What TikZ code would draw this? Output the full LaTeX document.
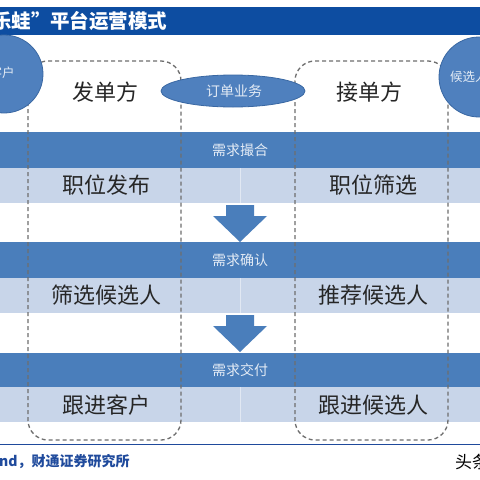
\documentclass[tikz,border=0pt]{standalone}
\usepackage{fontspec}
\usetikzlibrary{shapes.geometric}
\setmainfont{Noto Sans CJK SC}
\definecolor{titlebar}{HTML}{0D4DA1}
\definecolor{dband}{HTML}{4A7EBB}
\definecolor{lband}{HTML}{C8D5E9}
\definecolor{shapefill}{HTML}{4F80BE}
\definecolor{shapeline}{HTML}{3A68A3}
\definecolor{labeltext}{HTML}{E3EBF5}
\definecolor{dashgray}{HTML}{6E6E6E}
\definecolor{footblue}{HTML}{1F4A9C}
\begin{document}
\begin{tikzpicture}[x=1pt,y=-1pt,
  maintext/.style={inner sep=0pt, font=\fontsize{22}{22}\selectfont, text=black!85},
  smalltext/.style={inner sep=0pt, font=\fontsize{14}{14}\selectfont, text=labeltext},
  bubbletext/.style={inner sep=0pt, font=\fontsize{12.5}{12.5}\selectfont, text=labeltext},
  darkband/.style={fill=dband, draw=none},
  lightband/.style={fill=lband, draw=none},
  lane/.style={draw=dashgray, line width=1.3pt, dash pattern=on 4pt off 3pt, rounded corners=20pt},
  bubble/.style={fill=shapefill, draw=shapeline, line width=0.8pt},
  downarrow/.style={fill=dband, draw=none}]
\useasboundingbox (0,0) rectangle (480,480);
\clip (0,0) rectangle (480,480);
\fill[white] (0,0) rectangle (480,480);
% title bar
\fill[titlebar] (0,7) rectangle (480,35);
\node[anchor=west, inner sep=0pt, font=\fontsize{19.5}{19.5}\selectfont\bfseries, text=white] (title1) at (-8,21) {乐蛙”};
\node[anchor=west, inner sep=0pt, font=\fontsize{19.5}{19.5}\selectfont\bfseries, text=white] (title2) at (50,21) {平台运营模式};
% bands
\fill[darkband] (0,132) rectangle (480,168);
\fill[lightband] (0,168) rectangle (480,203);
\fill[darkband] (0,242) rectangle (480,278);
\fill[lightband] (0,278) rectangle (480,313);
\fill[darkband] (0,353) rectangle (480,387);
\fill[lightband] (0,387) rectangle (480,422);
\draw[white!45!lband, line width=0.4pt] (240,168) -- (240,203);
\draw[white!45!lband, line width=0.4pt] (240,278) -- (240,313);
\draw[white!45!lband, line width=0.4pt] (240,387) -- (240,422);
% arrows
\fill[downarrow] (226,205) -- (254,205) -- (254,216) -- (267,216) -- (240,242) -- (213,216) -- (226,216) -- cycle;
\fill[downarrow] (226,315) -- (254,315) -- (254,326) -- (267,326) -- (240,352) -- (213,326) -- (226,326) -- cycle;
% lanes
\draw[lane] (28,61) rectangle (181,440);
\draw[lane] (295,61) rectangle (448,440);
% bubbles
\node[bubble, circle, minimum size=78pt, inner sep=0pt] (client) at (4,74) {};
\node[bubbletext, anchor=west] (clienttext) at (-10.5,73) {客户};
\node[bubble, circle, minimum size=80pt, inner sep=0pt] (cand) at (479,77) {};
\node[bubbletext, anchor=west] (candtext) at (450,77) {候选人};
\node[bubble, ellipse, minimum width=144pt, minimum height=32pt, inner sep=0pt] (order) at (233,91) {};
\node[smalltext] (ordertext) at (234,91) {订单业务};
% headers
\node[maintext] (sender) at (105,92) {发单方};
\node[maintext] (receiver) at (369,92) {接单方};
% band labels
\node[smalltext] (s1) at (240,150) {需求撮合};
\node[smalltext] (s2) at (240,260) {需求确认};
\node[smalltext] (s3) at (240,370) {需求交付};
% cells
\node[maintext] (a1) at (107,185) {职位发布};
\node[maintext] (b1) at (373,185) {职位筛选};
\node[maintext] (a2) at (107,295) {筛选候选人};
\node[maintext] (b2) at (373,295) {推荐候选人};
\node[maintext] (a3) at (107,405) {跟进客户};
\node[maintext] (b3) at (373,405) {跟进候选人};
% footer
\draw[footblue, line width=1pt] (0,444) -- (480,444);
\node[anchor=west, inner sep=0pt, font=\fontsize{14}{14}\selectfont\bfseries, text=footblue] (source) at (-1,462) {nd，财通证券研究所};
\node[anchor=west, inner sep=0pt, font=\fontsize{17}{17}\selectfont, text=black] (mark) at (455,462) {头条};
\end{tikzpicture}
\end{document}
